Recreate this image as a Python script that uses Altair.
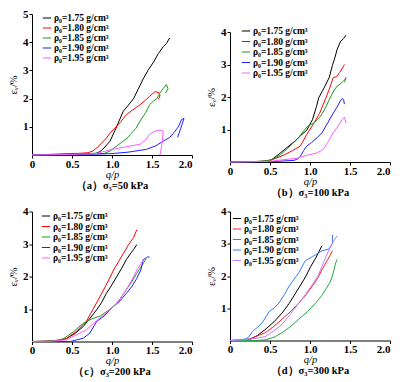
import altair as alt
import pandas as pd

SERIES = ["ρ₀=1.75 g/cm³", "ρ₀=1.80 g/cm³", "ρ₀=1.85 g/cm³", "ρ₀=1.90 g/cm³", "ρ₀=1.95 g/cm³"]
COLORS = ["#000000", "#ff0000", "#1f9a1f", "#1f1fff", "#ff5cff"]
COLORS_D = ["#000000", "#ff2020", "#22aa44", "#3a78ff", "#c27cff"]
CAPTIONS = ["（a）σ₃=50 kPa", "（b）σ₃=100 kPa", "（c）σ₃=200 kPa", "（d）σ₃=300 kPa"]
X_TICKS = [0, 0.5, 1.0, 1.5, 2.0]

# ---- panel (a) sigma3 = 50 kPa
a175_x = [0, 0.3, 0.6, 0.8, 0.85, 0.9, 0.975, 1.05, 1.14, 1.2, 1.27, 1.33, 1.39, 1.45, 1.52, 1.58, 1.64, 1.68, 1.72]
a175_y = [0, 0.02, 0.04, 0.06, 0.12, 0.25, 0.49, 0.95, 1.55, 1.75, 2.0, 2.35, 2.7, 3.0, 3.3, 3.6, 3.84, 3.95, 4.15]
a180_x = [0, 0.3, 0.6, 0.7, 0.76, 0.81, 0.87, 0.93, 0.98, 1.02, 1.1, 1.18, 1.26, 1.35, 1.42, 1.47, 1.54, 1.59, 1.60, 1.58]
a180_y = [0, 0.03, 0.06, 0.08, 0.14, 0.25, 0.42, 0.6, 0.8, 0.9, 1.15, 1.43, 1.6, 1.78, 1.95, 2.08, 2.25, 2.2, 2.1, 1.97]
a185_x = [0, 0.5, 0.9, 0.975, 1.05, 1.14, 1.2, 1.23, 1.3, 1.35, 1.42, 1.47, 1.52, 1.56, 1.6, 1.64, 1.68, 1.70, 1.67]
a185_y = [0, 0.02, 0.05, 0.14, 0.3, 0.49, 0.62, 0.73, 0.95, 1.2, 1.5, 1.78, 1.92, 2.0, 2.2, 2.36, 2.5, 2.35, 2.2]
a190_x = [0, 0.5, 1.0, 1.2, 1.43, 1.55, 1.64, 1.72, 1.77, 1.83, 1.87, 1.9, 1.86, 1.82]
a190_y = [0, 0.01, 0.05, 0.1, 0.2, 0.33, 0.49, 0.62, 0.78, 1.0, 1.26, 1.3, 0.95, 0.63]
a195_x = [0, 0.5, 0.8, 1.0, 1.2, 1.35, 1.42, 1.47, 1.52, 1.56, 1.6, 1.64, 1.63, 1.61, 1.6]
a195_y = [0, 0.02, 0.05, 0.2, 0.3, 0.38, 0.55, 0.73, 0.82, 0.87, 0.88, 0.85, 0.5, 0.15, 0]

# ---- panel (b) sigma3 = 100 kPa
b175_x = [0, 0.3, 0.45, 0.52, 0.6, 0.7, 0.8, 0.9, 0.96, 1.03, 1.08, 1.11, 1.18, 1.24, 1.28, 1.31, 1.34, 1.38, 1.42, 1.45]
b175_y = [0, 0.01, 0.03, 0.07, 0.22, 0.42, 0.62, 0.85, 0.98, 1.3, 1.7, 1.98, 2.3, 2.6, 2.97, 3.2, 3.47, 3.7, 3.8, 3.9]
b180_x = [0, 0.4, 0.5, 0.58, 0.68, 0.78, 0.88, 0.96, 1.05, 1.12, 1.2, 1.25, 1.29, 1.33, 1.37, 1.42, 1.43]
b180_y = [0, 0.02, 0.05, 0.12, 0.22, 0.35, 0.49, 0.85, 1.2, 1.5, 1.98, 2.3, 2.6, 2.62, 2.75, 2.95, 3.0]
b185_x = [0, 0.4, 0.5, 0.56, 0.63, 0.72, 0.84, 0.92, 0.97, 1.05, 1.13, 1.19, 1.25, 1.3, 1.34, 1.38, 1.42, 1.44, 1.45, 1.43]
b185_y = [0, 0.02, 0.06, 0.12, 0.22, 0.42, 0.7, 0.95, 1.1, 1.2, 1.4, 1.65, 1.97, 2.2, 2.34, 2.4, 2.5, 2.55, 2.6, 2.45]
b190_x = [0, 0.5, 0.8, 0.85, 0.88, 0.92, 0.96, 1.02, 1.09, 1.15, 1.22, 1.29, 1.34, 1.38, 1.40, 1.42, 1.43]
b190_y = [0, 0.01, 0.05, 0.1, 0.18, 0.35, 0.49, 0.6, 0.75, 0.9, 1.2, 1.5, 1.7, 1.88, 1.95, 1.92, 1.78]
b195_x = [0, 0.5, 0.84, 0.95, 1.09, 1.17, 1.22, 1.29, 1.35, 1.40, 1.43, 1.45]
b195_y = [0, 0.02, 0.12, 0.2, 0.28, 0.4, 0.6, 0.9, 1.1, 1.3, 1.38, 1.2]

# ---- panel (c) sigma3 = 200 kPa
c175_x = [0, 0.2, 0.35, 0.43, 0.54, 0.64, 0.72, 0.81, 0.87, 0.93, 1.0, 1.06, 1.12, 1.18, 1.23, 1.27, 1.31]
c175_y = [0, 0.01, 0.04, 0.09, 0.25, 0.46, 0.7, 0.98, 1.2, 1.48, 1.75, 2.0, 2.25, 2.52, 2.7, 2.83, 2.98]
c180_x = [0, 0.2, 0.35, 0.43, 0.55, 0.68, 0.76, 0.85, 0.94, 1.02, 1.08, 1.14, 1.2, 1.27, 1.31]
c180_y = [0, 0.01, 0.04, 0.09, 0.3, 0.62, 0.98, 1.38, 1.8, 2.2, 2.45, 2.7, 2.95, 3.2, 3.44]
c185_x = [0, 0.2, 0.35, 0.4, 0.52, 0.64, 0.75, 0.85, 0.95, 1.06, 1.12, 1.18, 1.25, 1.31, 1.39, 1.43]
c185_y = [0, 0.01, 0.05, 0.1, 0.3, 0.56, 0.7, 0.78, 0.95, 1.17, 1.38, 1.6, 1.85, 2.1, 2.4, 2.56]
c190_x = [0, 0.3, 0.48, 0.56, 0.64, 0.72, 0.81, 0.9, 1.02, 1.1, 1.18, 1.25, 1.31, 1.36, 1.39, 1.44, 1.47]
c190_y = [0, 0.0, 0.0, 0.05, 0.1, 0.25, 0.62, 0.78, 1.08, 1.25, 1.48, 1.7, 1.94, 2.2, 2.52, 2.6, 2.6]
c195_x = [0, 0.25, 0.43, 0.55, 0.68, 0.81, 0.9, 1.02, 1.1, 1.18, 1.25, 1.31, 1.39, 1.44]
c195_y = [0, 0.01, 0.05, 0.2, 0.36, 0.65, 0.82, 1.08, 1.3, 1.6, 1.9, 2.2, 2.5, 2.6]

# ---- panel (d) sigma3 = 300 kPa
d175_x = [0, 0.15, 0.24, 0.34, 0.44, 0.55, 0.65, 0.74, 0.82, 0.89, 0.95, 1.01, 1.07, 1.11, 1.15]
d175_y = [0, 0.0, 0.02, 0.15, 0.34, 0.58, 0.85, 1.15, 1.47, 1.75, 2.0, 2.3, 2.55, 2.75, 2.94]
d180_x = [0, 0.15, 0.24, 0.34, 0.44, 0.55, 0.65, 0.75, 0.86, 0.95, 1.03, 1.1, 1.15, 1.22, 1.28]
d180_y = [0, 0.02, 0.05, 0.14, 0.24, 0.44, 0.66, 0.88, 1.16, 1.42, 1.69, 1.95, 2.2, 2.5, 2.78]
d185_x = [0, 0.3, 0.44, 0.55, 0.65, 0.75, 0.86, 0.97, 1.07, 1.15, 1.2, 1.25, 1.28, 1.32, 1.34]
d185_y = [0, 0.0, 0.02, 0.1, 0.24, 0.42, 0.66, 0.9, 1.16, 1.4, 1.6, 1.8, 2.0, 2.4, 2.52]
d190_x = [0, 0.11, 0.2, 0.24, 0.28, 0.34, 0.40, 0.49, 0.55, 0.61, 0.68, 0.74, 0.8, 0.86, 0.94, 1.03, 1.15, 1.24, 1.28, 1.28]
d190_y = [0, 0.02, 0.05, 0.12, 0.28, 0.4, 0.54, 0.9, 1.0, 1.16, 1.42, 1.69, 1.9, 2.1, 2.47, 2.6, 2.78, 2.84, 3.0, 3.28]
d195_x = [0, 0.14, 0.3, 0.44, 0.55, 0.65, 0.75, 0.86, 0.95, 1.03, 1.1, 1.15, 1.2, 1.26, 1.3, 1.34]
d195_y = [0, 0.02, 0.06, 0.12, 0.3, 0.5, 0.8, 1.16, 1.45, 1.74, 2.0, 2.3, 2.6, 2.94, 3.1, 3.25]

PANELS = {
    "a": [(a175_x, a175_y), (a180_x, a180_y), (a185_x, a185_y), (a190_x, a190_y), (a195_x, a195_y)],
    "b": [(b175_x, b175_y), (b180_x, b180_y), (b185_x, b185_y), (b190_x, b190_y), (b195_x, b195_y)],
    "c": [(c175_x, c175_y), (c180_x, c180_y), (c185_x, c185_y), (c190_x, c190_y), (c195_x, c195_y)],
    "d": [(d175_x, d175_y), (d180_x, d180_y), (d185_x, d185_y), (d190_x, d190_y), (d195_x, d195_y)],
}

SERIF = "Liberation Serif"
PW = 160


def make_df(key):
    rows = []
    for name, (xs, ys) in zip(SERIES, PANELS[key]):
        for i, (xv, yv) in enumerate(zip(xs, ys)):
            rows.append({"s": name, "x": xv, "y": yv, "i": i})
    return pd.DataFrame(rows)


def panel(key, caption, ymax, height, top, colors, lx, ly, rowpad):
    df = make_df(key)
    return alt.Chart(df).mark_line(strokeWidth=1).encode(
        x=alt.X("x:Q", scale=alt.Scale(domain=[0, 2], nice=False),
                axis=alt.Axis(values=X_TICKS, title="q/p", labelPadding=0,
                              labelAlign={"condition": {"test": "datum.value == 2", "value": "right"},
                                          "value": "center"},
                              labelExpr="datum.value == 0 ? '0' : format(datum.value, '.1f')")),
        y=alt.Y("y:Q", scale=alt.Scale(domain=[0, ymax], range=[height, top], nice=False),
                axis=alt.Axis(values=list(range(1, ymax + 1)), title="εᵥ/%")),
        color=alt.Color("s:N", scale=alt.Scale(domain=SERIES, range=colors),
                        legend=alt.Legend(title=None, orient="none", legendX=lx, legendY=ly,
                                          rowPadding=rowpad)),
        order="i:Q",
    ).properties(
        width=PW, height=height,
        title=alt.TitleParams(caption, orient="bottom", anchor="middle", frame="group",
                              font=SERIF, fontSize=10.5, fontWeight="bold", offset=1),
    )


pa = panel("a", CAPTIONS[0], 5, 141, 0, COLORS, 10, -1, 0)
pb = panel("b", CAPTIONS[1], 4, 148, 18, COLORS, 11, 12, 0.5)
pc = panel("c", CAPTIONS[2], 4, 130, 0, COLORS, 9, -0.5, 0.5)
pd_ = panel("d", CAPTIONS[3], 4, 129, 0, COLORS_D, 2, 2, 0.5)

row1 = alt.hconcat(pa, pb, spacing=13).resolve_scale(color="independent").resolve_legend(color="independent")
row2 = alt.hconcat(pc, pd_, spacing=13).resolve_scale(color="independent").resolve_legend(color="independent")

chart = alt.vconcat(row1, row2, spacing=7.5).resolve_scale(
    color="independent"
).resolve_legend(color="independent").properties(padding=0).configure_view(
    stroke=None
).configure_axis(
    grid=False, domainColor="black", domainWidth=1, tickColor="black", tickSize=3,
    tickWidth=1, labelFont=SERIF, labelFontSize=11, labelFontWeight="bold",
    labelColor="black", labelPadding=1, titleFont=SERIF, titleFontSize=10.5,
    titleFontWeight="normal", titleColor="black",
).configure_axisX(
    titleFontStyle="italic", titlePadding=0,
).configure_axisY(
    titlePadding=4, labelFlush=False,
).configure_legend(
    symbolType="stroke", symbolSize=70, symbolStrokeWidth=1, labelFont=SERIF,
    labelFontSize=9.5, labelFontWeight="bold", labelColor="black", padding=0,
    labelOffset=2, labelLimit=200,
)

chart.save("out.html", embed_options={"renderer": "svg", "actions": False})
